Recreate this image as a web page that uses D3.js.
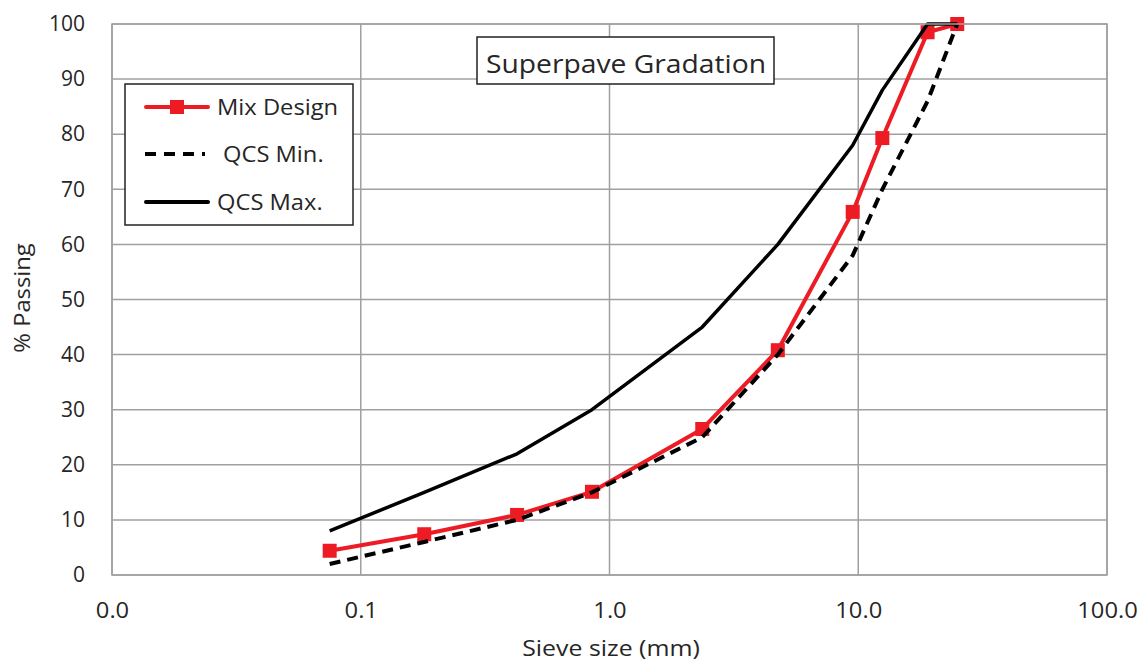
<!DOCTYPE html>
<html>
<head>
<meta charset="utf-8">
<script src="https://cdn.jsdelivr.net/npm/d3@7"></script>
<style>
  html, body { margin: 0; padding: 0; background: #fff; }
  svg { display: block; font-family: "Open Sans", Lato, sans-serif; }
</style>
</head>
<body>
<svg id="chart" width="1142" height="664"></svg>
<script>
// ---- data ----
const sieveSizes = [0.075, 0.18, 0.425, 0.85, 2.36, 4.75, 9.5, 12.5, 19, 25];
const mixDesign  = [4.4, 7.4, 10.9, 15.1, 26.5, 40.8, 65.9, 79.3, 98.5, 100];
const qcsMin     = [2, 6, 10, 15, 25, 40, 58, 70, 86, 100];
const qcsMax     = [8, 15, 22, 30, 45, 60, 78, 88, 100, 100];
const xTickValues = [0.01, 0.1, 1, 10, 100];
const xTickLabels = ["0.0", "0.1", "1.0", "10.0", "100.0"];
const yTickValues = [0, 10, 20, 30, 40, 50, 60, 70, 80, 90, 100];
const seriesNames = ["Mix Design", "QCS Min.", "QCS Max."];
const chartTitle = "Superpave Gradation";
const xTitle = "Sieve size (mm)";
const yTitle = "% Passing";

// ---- layout ----
const svg = d3.select("#chart");
const L = 112, R = 1107, T = 24, B = 575;
const x = d3.scaleLog().domain([0.01, 100]).range([L, R]);
const y = d3.scaleLinear().domain([0, 100]).range([B, T]);
const textColor = "#262626";
const gridColor = "#a0a0a0";
const font = "'Open Sans', Lato, sans-serif";
const stretch = 1.13;

// gridlines
const g = svg.append("g");
g.selectAll(".hg").data(yTickValues).join("line")
  .attr("x1", L).attr("x2", R)
  .attr("y1", d => y(d)).attr("y2", d => y(d))
  .attr("stroke", gridColor).attr("stroke-width", 1.5);
g.selectAll(".vg").data(xTickValues).join("line")
  .attr("y1", T).attr("y2", B)
  .attr("x1", d => x(d)).attr("x2", d => x(d))
  .attr("stroke", gridColor).attr("stroke-width", 1.5);

// axes labels via d3 axes
const xAxis = d3.axisBottom(x).tickValues(xTickValues)
  .tickFormat((d, i) => xTickLabels[i]).tickSize(0).tickPadding(0);
const xa = svg.append("g").attr("transform", `translate(0,${B})`).call(xAxis);
xa.select(".domain").remove();
xa.selectAll("text").attr("font-size", 21).attr("fill", textColor)
  .attr("font-family", font).attr("dy", null).attr("y", null)
  .attr("transform", `translate(0,43) scale(${stretch},1)`);

const yAxis = d3.axisLeft(y).tickValues(yTickValues).tickSize(0).tickPadding(27);
const ya = svg.append("g").attr("transform", `translate(${L},0)`).call(yAxis);
ya.select(".domain").remove();
ya.selectAll("text").attr("font-size", 21).attr("fill", textColor)
  .attr("font-family", font);

// axis titles
svg.append("text").attr("transform", `translate(611,656) scale(${stretch},1)`)
  .attr("text-anchor", "middle").attr("font-size", 22).attr("fill", textColor)
  .attr("font-family", font).text(xTitle);
svg.append("text").attr("transform", `translate(30,298) rotate(-90) scale(1.08,1)`)
  .attr("text-anchor", "middle").attr("font-size", 22).attr("fill", textColor)
  .attr("font-family", font).text(yTitle);

// series
const red = "#ed1c24";
const mk = (vals) => sieveSizes.map((s, i) => [s, vals[i]]);
const line = d3.line().x(d => x(d[0])).y(d => y(d[1]));

svg.append("path").datum(mk(mixDesign)).attr("d", line)
  .attr("fill", "none").attr("stroke", red).attr("stroke-width", 4)
  .attr("stroke-linejoin", "round");
svg.selectAll(".mk").data(mk(mixDesign)).join("rect")
  .attr("x", d => x(d[0]) - 7).attr("y", d => y(d[1]) - 7)
  .attr("width", 14).attr("height", 14).attr("fill", red);

svg.append("path").datum(mk(qcsMin)).attr("d", line)
  .attr("fill", "none").attr("stroke", "#000").attr("stroke-width", 4)
  .attr("stroke-dasharray", "11,7");

svg.append("path").datum(mk(qcsMax)).attr("d", line)
  .attr("fill", "none").attr("stroke", "#000").attr("stroke-width", 3.5)
  .attr("stroke-linejoin", "round");

// plot border
svg.append("rect").attr("x", L).attr("y", T).attr("width", R - L).attr("height", B - T)
  .attr("fill", "none").attr("stroke", gridColor).attr("stroke-width", 1.5);

// title box
const tb = svg.append("g");
tb.append("rect").attr("x", 477).attr("y", 37).attr("width", 297).attr("height", 47)
  .attr("fill", "#fff").attr("stroke", "#222").attr("stroke-width", 1.5);
tb.append("text").attr("transform", `translate(626,73) scale(${stretch},1)`)
  .attr("text-anchor", "middle")
  .attr("font-size", 25).attr("fill", textColor).attr("font-family", font).text(chartTitle);

// legend
const lg = svg.append("g");
lg.append("rect").attr("x", 125).attr("y", 84).attr("width", 228).attr("height", 141)
  .attr("fill", "#fff").attr("stroke", "#222").attr("stroke-width", 1.5);
const ly = [107, 154, 202];
lg.append("line").attr("x1", 146).attr("x2", 208).attr("y1", ly[0]).attr("y2", ly[0])
  .attr("stroke", red).attr("stroke-width", 4).attr("stroke-linecap", "round");
lg.append("rect").attr("x", 170).attr("y", ly[0] - 7).attr("width", 14).attr("height", 14).attr("fill", red);
lg.append("line").attr("x1", 145).attr("x2", 205).attr("y1", ly[1]).attr("y2", ly[1])
  .attr("stroke", "#000").attr("stroke-width", 4).attr("stroke-dasharray", "11,8");
lg.append("line").attr("x1", 146).attr("x2", 208).attr("y1", ly[2]).attr("y2", ly[2])
  .attr("stroke", "#000").attr("stroke-width", 4).attr("stroke-linecap", "round");
const lx = [217, 223, 217];
lg.selectAll(".lt").data(seriesNames).join("text")
  .attr("transform", (d, i) => `translate(${lx[i]},${ly[i] + 8}) scale(${stretch},1)`)
  .attr("font-size", 21).attr("fill", textColor).attr("font-family", font).text(d => d);
</script>
</body>
</html>
